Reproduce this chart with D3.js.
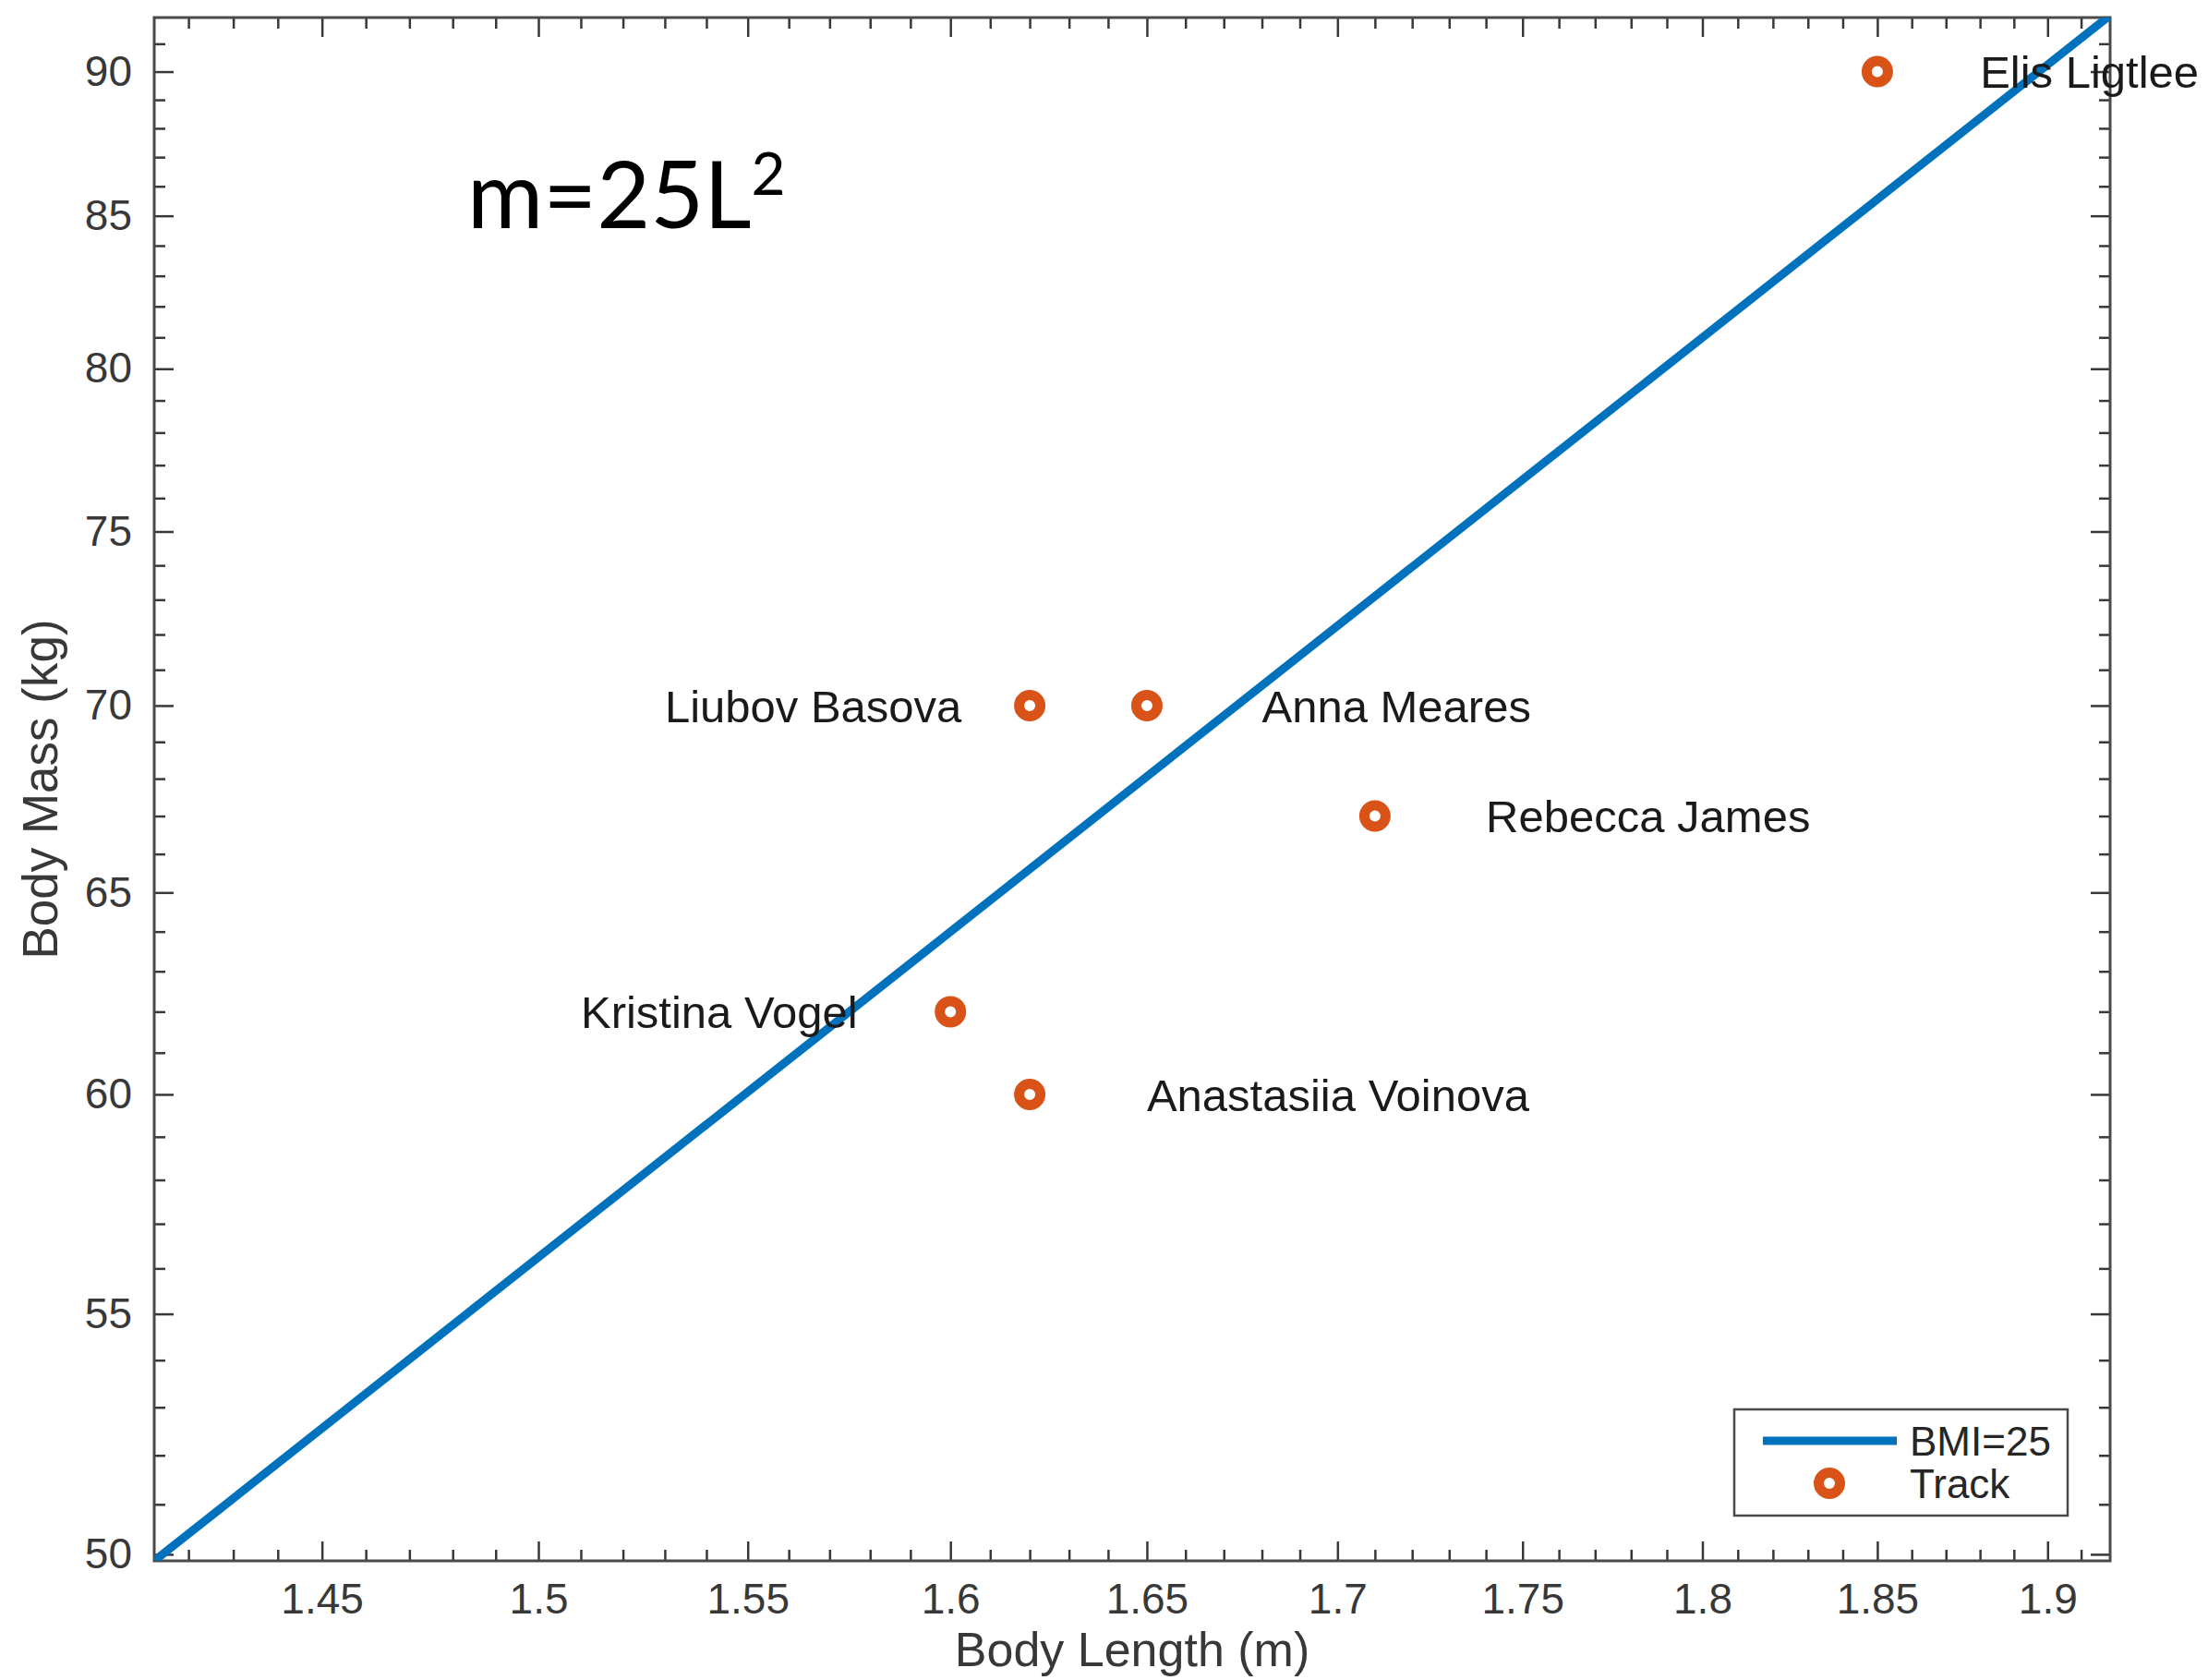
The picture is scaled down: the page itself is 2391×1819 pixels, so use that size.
<!DOCTYPE html>
<html>
<head>
<meta charset="utf-8">
<script src="https://cdn.jsdelivr.net/npm/d3@7"></script>
<style>
  html, body { margin: 0; padding: 0; background: #fff; }
  svg { display: block; }
</style>
</head>
<body>
<div id="chart"></div>
<script>
// athletes, body length (m) and body mass (kg)
const names = ["Elis Ligtlee", "Liubov Basova", "Anna Meares", "Rebecca James", "Kristina Vogel", "Anastasiia Voinova"];
const lengths = [1.85, 1.62, 1.65, 1.71, 1.60, 1.62];
const masses = [90, 70, 70, 67, 62, 60];
const labelSide = ["right", "left", "right", "right", "left", "right"];

// BMI=25 reference line, m = 25 L^2, across the whole x range
const lineLengths = [1.4124, 1.9187];
const lineMasses = [49.87, 92.03];

const xTicks = [1.45, 1.5, 1.55, 1.6, 1.65, 1.7, 1.75, 1.8, 1.85, 1.9];
const xTickLabels = ["1.45", "1.5", "1.55", "1.6", "1.65", "1.7", "1.75", "1.8", "1.85", "1.9"];
const yTicks = [50, 55, 60, 65, 70, 75, 80, 85, 90];
const yTickLabels = ["50", "55", "60", "65", "70", "75", "80", "85", "90"];

const width = 2391, height = 1819;
const plotLeft = 167, plotRight = 2285, plotTop = 19, plotBottom = 1690;
const ink = "#262626", tickInk = "#383838";
const blue = "#0072BD", orange = "#D95319";

const svg = d3.select("#chart").append("svg")
    .attr("width", width)
    .attr("height", height)
    .style("font-family", "'Liberation Sans', Arial, sans-serif");

const x = d3.scaleLog().domain([1.4124, 1.9187]).range([plotLeft, plotRight]);
const y = d3.scaleLog().domain([49.87, 91.95]).range([plotBottom, plotTop]);

// minor ticks every 0.01 m and 1 kg
const xMinor = d3.range(142, 192).map(v => v / 100).filter(v => !xTicks.some(t => Math.abs(t - v) < 1e-6));
const yMinor = d3.range(51, 92).filter(v => !yTicks.includes(v));

function styleAxis(g) {
    g.select(".domain").remove();
    g.selectAll(".tick line").attr("stroke", tickInk).attr("stroke-width", 2.5);
    g.selectAll(".tick text").attr("fill", tickInk).style("font-size", "46px");
}

// bottom
svg.append("g").attr("transform", `translate(0,${plotBottom})`)
    .call(d3.axisBottom(x).tickValues(xTicks).tickFormat((d, i) => xTickLabels[i]).tickSizeInner(-21).tickSizeOuter(0).tickPadding(24))
    .call(styleAxis);
svg.append("g").attr("transform", `translate(0,${plotBottom})`)
    .call(d3.axisBottom(x).tickValues(xMinor).tickFormat("").tickSizeInner(-12).tickSizeOuter(0))
    .call(styleAxis);
// top
svg.append("g").attr("transform", `translate(0,${plotTop})`)
    .call(d3.axisTop(x).tickValues(xTicks).tickFormat("").tickSizeInner(-21).tickSizeOuter(0))
    .call(styleAxis);
svg.append("g").attr("transform", `translate(0,${plotTop})`)
    .call(d3.axisTop(x).tickValues(xMinor).tickFormat("").tickSizeInner(-12).tickSizeOuter(0))
    .call(styleAxis);
// left
svg.append("g").attr("transform", `translate(${plotLeft},0)`)
    .call(d3.axisLeft(y).tickValues(yTicks).tickFormat((d, i) => yTickLabels[i]).tickSizeInner(-21).tickSizeOuter(0).tickPadding(24))
    .call(styleAxis);
svg.append("g").attr("transform", `translate(${plotLeft},0)`)
    .call(d3.axisLeft(y).tickValues(yMinor).tickFormat("").tickSizeInner(-12).tickSizeOuter(0))
    .call(styleAxis);
// right
svg.append("g").attr("transform", `translate(${plotRight},0)`)
    .call(d3.axisRight(y).tickValues(yTicks).tickFormat("").tickSizeInner(-21).tickSizeOuter(0))
    .call(styleAxis);
svg.append("g").attr("transform", `translate(${plotRight},0)`)
    .call(d3.axisRight(y).tickValues(yMinor).tickFormat("").tickSizeInner(-12).tickSizeOuter(0))
    .call(styleAxis);

// axes box
svg.append("rect")
    .attr("x", plotLeft).attr("y", plotTop)
    .attr("width", plotRight - plotLeft).attr("height", plotBottom - plotTop)
    .attr("fill", "none").attr("stroke", "#4a4a4a").attr("stroke-width", 3);

svg.append("clipPath").attr("id", "plotClip")
    .append("rect").attr("x", plotLeft).attr("y", plotTop).attr("width", plotRight - plotLeft).attr("height", plotBottom - plotTop);

// BMI line
svg.append("path")
    .datum(lineLengths.map((l, i) => [l, lineMasses[i]]))
    .attr("clip-path", "url(#plotClip)")
    .attr("fill", "none")
    .attr("stroke", blue)
    .attr("stroke-width", 9)
    .attr("d", d3.line().x(d => x(d[0])).y(d => y(d[1])));

// athlete markers
svg.selectAll("circle.pt")
    .data(names)
    .enter().append("circle")
    .attr("class", "pt")
    .attr("cx", (d, i) => x(lengths[i]))
    .attr("cy", (d, i) => y(masses[i]))
    .attr("r", 11.5)
    .attr("fill", "none")
    .attr("stroke", orange)
    .attr("stroke-width", 11);

// name labels (placed at L+0.03 on the right, L-0.09 on the left)
svg.selectAll("text.name")
    .data(names)
    .enter().append("text")
    .attr("class", "name")
    .attr("x", (d, i) => x(lengths[i] + (labelSide[i] === "right" ? 0.03 : -0.09)))
    .attr("y", (d, i) => y(masses[i]))
    .attr("dy", "0.36em")
    .attr("fill", "#1a1a1a")
    .style("font-size", "49px")
    .text(d => d);

// axis labels
svg.append("text")
    .attr("x", (plotLeft + plotRight) / 2)
    .attr("y", 1804)
    .attr("text-anchor", "middle")
    .attr("fill", tickInk)
    .style("font-size", "52px")
    .text("Body Length (m)");
svg.append("text")
    .attr("transform", `translate(62,${(plotTop + plotBottom) / 2}) rotate(-90)`)
    .attr("text-anchor", "middle")
    .attr("fill", tickInk)
    .style("font-size", "53px")
    .text("Body Mass (kg)");

// formula annotation
const formula = svg.append("text")
    .attr("x", 506)
    .attr("y", 247)
    .attr("fill", "#000")
    .style("font-family", "Lato, 'Open Sans', sans-serif")
    .style("font-size", "100px");
formula.append("tspan").text("m=25L");
formula.append("tspan").attr("dy", -36).style("font-size", "64px").text("2");

// legend
const legend = svg.append("g");
legend.append("rect")
    .attr("x", 1878).attr("y", 1526)
    .attr("width", 361).attr("height", 115)
    .attr("fill", "#fff").attr("stroke", "#4a4a4a").attr("stroke-width", 2.5);
legend.append("line")
    .attr("x1", 1909).attr("x2", 2054).attr("y1", 1560).attr("y2", 1560)
    .attr("stroke", blue).attr("stroke-width", 9);
legend.append("circle")
    .attr("cx", 1981).attr("cy", 1606).attr("r", 11.5)
    .attr("fill", "none").attr("stroke", orange).attr("stroke-width", 11);
legend.append("text")
    .attr("x", 2068).attr("y", 1560).attr("dy", "0.36em")
    .attr("fill", ink).style("font-size", "44px").text("BMI=25");
legend.append("text")
    .attr("x", 2068).attr("y", 1606).attr("dy", "0.36em")
    .attr("fill", ink).style("font-size", "44px").text("Track");
</script>
</body>
</html>
